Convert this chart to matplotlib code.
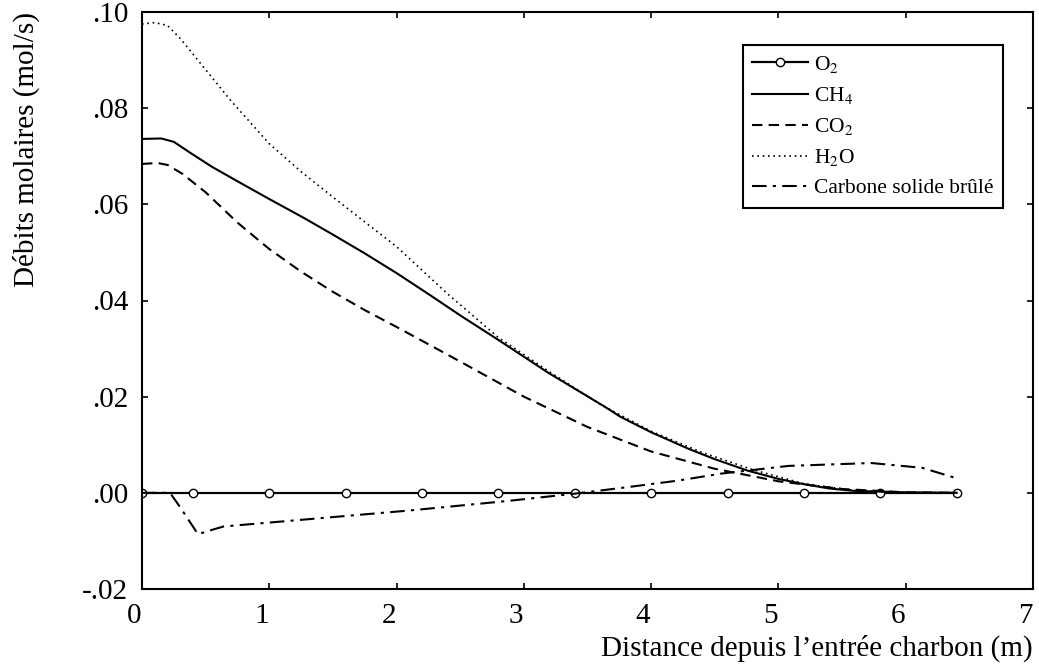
import matplotlib
matplotlib.use("Agg")
import matplotlib.pyplot as plt
from matplotlib.transforms import ScaledTranslation

# values (mol/s vs m)
x_o2 = [0.0, 0.4, 1.0, 1.6, 2.2, 2.8, 3.4, 4.0, 4.6, 5.2, 5.8, 6.4]
o2 = [0.0, 0.0, 0.0, 0.0, 0.0, 0.0, 0.0, 0.0, 0.0, 0.0, 0.0, 0.0]

x_ch4 = [0.0, 0.15, 0.25, 0.38, 0.55, 0.77, 1.0, 1.27, 1.5, 1.75, 2.0, 2.27,
         2.5, 2.8, 3.19, 3.63, 3.76, 4.0, 4.29, 4.5, 4.76, 5.0, 5.2, 5.4,
         5.6, 6.0, 6.4]
ch4 = [0.0736, 0.0737, 0.0730, 0.0707, 0.0678, 0.0645, 0.0611, 0.0572, 0.0537,
       0.0498, 0.0457, 0.0410, 0.0369, 0.0318, 0.0250, 0.0180, 0.0158, 0.0126,
       0.0092, 0.0070, 0.0046, 0.0029, 0.0018, 0.0009, 0.0004, 0.0001, 0.0]

x_co2 = [0.0, 0.12, 0.2, 0.32, 0.5, 0.75, 1.0, 1.25, 1.5, 1.75, 2.0, 2.5,
         3.0, 3.5, 4.0, 4.5, 5.0, 5.5, 6.0, 6.4]
co2 = [0.0684, 0.0686, 0.0682, 0.0663, 0.0625, 0.0562, 0.0507, 0.0460, 0.0418,
       0.0380, 0.0345, 0.0273, 0.0200, 0.0137, 0.0086, 0.0050, 0.0024, 0.0008,
       0.0001, 0.0]

x_h2o = [0.0, 0.1, 0.2, 0.3, 0.5, 0.7, 1.0, 1.25, 1.5, 2.0, 2.4, 2.8, 3.2,
         3.6, 4.0, 4.4, 4.8, 5.2, 5.6, 6.0, 6.4]
h2o = [0.0975, 0.0978, 0.0972, 0.0945, 0.0880, 0.0815, 0.0726, 0.0668, 0.0615,
       0.0512, 0.0414, 0.0323, 0.0252, 0.0184, 0.0128, 0.0084, 0.0048, 0.0019,
       0.0005, 0.0001, 0.0]

x_c = [0.0, 0.22, 0.3, 0.44, 0.55, 0.64, 1.3, 2.09, 2.87, 3.39, 3.76, 4.2,
       4.55, 5.08, 5.73, 6.13, 6.39]
carbone = [0.0, 0.0, -0.003, -0.0086, -0.0077, -0.0070, -0.0055, -0.0037,
           -0.0017, -0.0002, 0.001, 0.0025, 0.004, 0.0056, 0.0062, 0.0052, 0.0031]

yticks = [-0.02, 0.0, 0.02, 0.04, 0.06, 0.08, 0.10]
ytick_labels = ["-.02", ".00", ".02", ".04", ".06", ".08", ".10"]
xticks = [0, 1, 2, 3, 4, 5, 6, 7]

plt.rcParams["font.family"] = ["Liberation Serif", "DejaVu Serif"]
plt.rcParams["mathtext.fontset"] = "stix"

fig = plt.figure(figsize=(10.39, 6.68), dpi=100)
ax = fig.add_axes([142 / 1039, 79 / 668, 891 / 1039, 577 / 668])

ax.plot(x_o2, o2, color="black", lw=1.6, marker="o", ms=6, mfc="white",
        mec="black", mew=1.0, label=r"O$_2$")
ax.plot(x_ch4, ch4, color="black", lw=1.5, ls="-", label=r"CH$_4$")
ax.plot(x_co2, co2, color="black", lw=1.5, ls=(0, (5, 3)), label=r"CO$_2$")
ax.plot(x_h2o, h2o, color="black", lw=1.2, ls=(0, (1, 2.2)), label=r"H$_2$O")
ax.plot(x_c, carbone, color="black", lw=1.5, ls=(0, (7, 3, 1.5, 3)),
        label="Carbone solide brûlé")

ax.set_xlim(0, 7)
ax.set_ylim(-0.02, 0.10)
ax.set_xticks(xticks)
ax.set_yticks(yticks)
ax.set_yticklabels(ytick_labels)
ax.tick_params(direction="in", length=4, width=1.2, top=True, right=True,
               labelsize=21, pad=10)
for s in ax.spines.values():
    s.set_linewidth(1.5)
# x tick labels sit a little left of their ticks in the original
shift = ScaledTranslation(-8 / 100, 0, fig.dpi_scale_trans)
for lab in ax.get_xticklabels():
    lab.set_transform(lab.get_transform() + shift)

ax.set_ylabel("Débits molaires (mol/s)", fontsize=21, loc="top")
ax.yaxis.set_label_coords(-0.1145, 1.0)
ax.set_xlabel("Distance depuis l\u2019entrée charbon (m)", fontsize=21,
              labelpad=4, loc="right")

leg = ax.legend(loc="upper right", bbox_to_anchor=(0.966, 0.943),
                borderaxespad=0, fontsize=15.5, handlelength=2.6,
                fancybox=False, edgecolor="black", framealpha=1,
                labelspacing=0.47, handletextpad=0.3, borderpad=0.42)
leg.get_frame().set_linewidth(1.5)

fig.savefig("out.png", dpi=100)
